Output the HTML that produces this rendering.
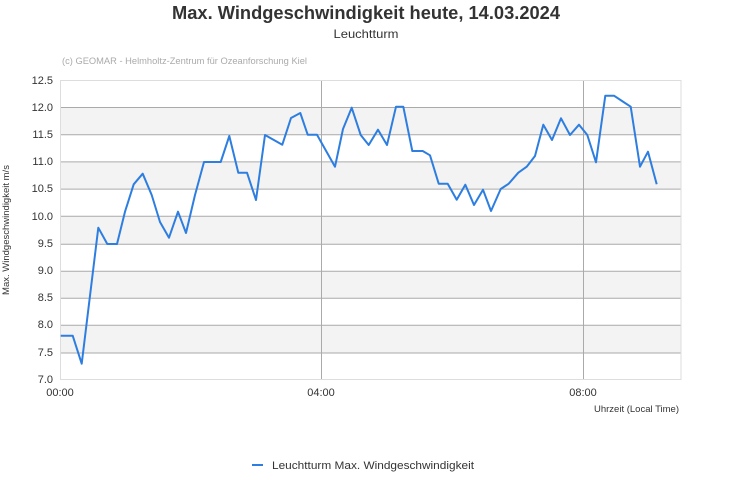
<!DOCTYPE html>
<html><head><meta charset="utf-8"><style>html,body{margin:0;padding:0;background:#fff}svg{display:block}</style></head>
<body>
<svg width="731" height="500" xmlns="http://www.w3.org/2000/svg" font-family="Liberation Sans, sans-serif">
<rect width="731" height="500" fill="#fff"/>
<text x="366" y="19" font-size="18" font-weight="bold" fill="#333" text-anchor="middle" textLength="388" lengthAdjust="spacingAndGlyphs">Max. Windgeschwindigkeit heute, 14.03.2024</text>
<text x="366" y="38" font-size="12" fill="#333" text-anchor="middle" textLength="65" lengthAdjust="spacingAndGlyphs">Leuchtturm</text>
<text x="62" y="64" font-size="9" fill="#aaa" textLength="245" lengthAdjust="spacingAndGlyphs">(c) GEOMAR - Helmholtz-Zentrum für Ozeanforschung Kiel</text>
<g fill="#f3f3f3">
<rect x="61" y="107.5" width="620" height="27.2"/>
<rect x="61" y="161.9" width="620" height="27.2"/>
<rect x="61" y="216.3" width="620" height="27.9"/>
<rect x="61" y="271.3" width="620" height="27"/>
<rect x="61" y="325.3" width="620" height="27.7"/>
</g>
<g stroke="#aaa" stroke-width="1">
<line x1="61" x2="681" y1="107.5" y2="107.5"/>
<line x1="61" x2="681" y1="134.7" y2="134.7"/>
<line x1="61" x2="681" y1="161.9" y2="161.9"/>
<line x1="61" x2="681" y1="189.1" y2="189.1"/>
<line x1="61" x2="681" y1="216.3" y2="216.3"/>
<line x1="61" x2="681" y1="244.2" y2="244.2"/>
<line x1="61" x2="681" y1="271.3" y2="271.3"/>
<line x1="61" x2="681" y1="298.3" y2="298.3"/>
<line x1="61" x2="681" y1="325.3" y2="325.3"/>
<line x1="61" x2="681" y1="353" y2="353"/>
<line x1="321.5" x2="321.5" y1="80.5" y2="379.5"/>
<line x1="583.5" x2="583.5" y1="80.5" y2="379.5"/>
</g>
<rect x="60.5" y="80.5" width="620.5" height="299" fill="none" stroke="#ddd"/>
<g font-size="11" fill="#333" text-anchor="end">
<text x="53" y="84">12.5</text><text x="53" y="111">12.0</text><text x="53" y="138">11.5</text><text x="53" y="165">11.0</text><text x="53" y="192">10.5</text><text x="53" y="220">10.0</text><text x="53" y="247">9.5</text><text x="53" y="274">9.0</text><text x="53" y="301">8.5</text><text x="53" y="328">8.0</text><text x="53" y="356">7.5</text><text x="53" y="383">7.0</text>
</g>
<g font-size="11" fill="#333" text-anchor="middle">
<text x="60" y="396">00:00</text><text x="321" y="396">04:00</text><text x="583" y="396">08:00</text>
</g>
<text x="679" y="412" font-size="9.5" fill="#333" text-anchor="end">Uhrzeit (Local Time)</text>
<text transform="translate(9,230) rotate(-90)" font-size="9.5" fill="#333" text-anchor="middle">Max. Windgeschwindigkeit m/s</text>
<polyline fill="none" stroke="#2d7ee0" stroke-width="2" stroke-linejoin="round" points="60.7,335.7 72.7,335.7 81.7,363.7 98.3,227.7 107.3,244 117,244 125,211.7 133.7,184.3 142.7,173.7 151.7,195 160,222 169,237.7 178,211.7 186,233 195,195 204,162 220.7,162 229.3,136 238.3,172.7 247,172.7 256,200 265,135 282.3,144.7 291,118 300.3,113 307.7,134.7 317,134.7 335,166.7 343,129 351.7,107.7 360.7,135 368.7,145 378,129.7 387,145 396,106.7 403.3,106.7 412.3,151 422.7,151 430,155.3 438.7,183.7 447.7,183.7 456.7,199.7 465.3,184.7 474,205 483,189.7 491,211 500.7,189 508.7,183.7 518.3,172.7 526.7,166.7 535,156 543.3,124.7 552,140 561,118.3 570,135 579,124.7 587.3,135 596,162.3 605.3,95.7 614,95.7 622,101 630.7,106.7 640,166.7 648,151.7 656.7,184.3"/>
<line x1="252" x2="263" y1="465" y2="465" stroke="#2d7ee0" stroke-width="2"/>
<text x="272" y="469" font-size="11" fill="#333" textLength="202" lengthAdjust="spacingAndGlyphs">Leuchtturm Max. Windgeschwindigkeit</text>
</svg>
</body></html>
